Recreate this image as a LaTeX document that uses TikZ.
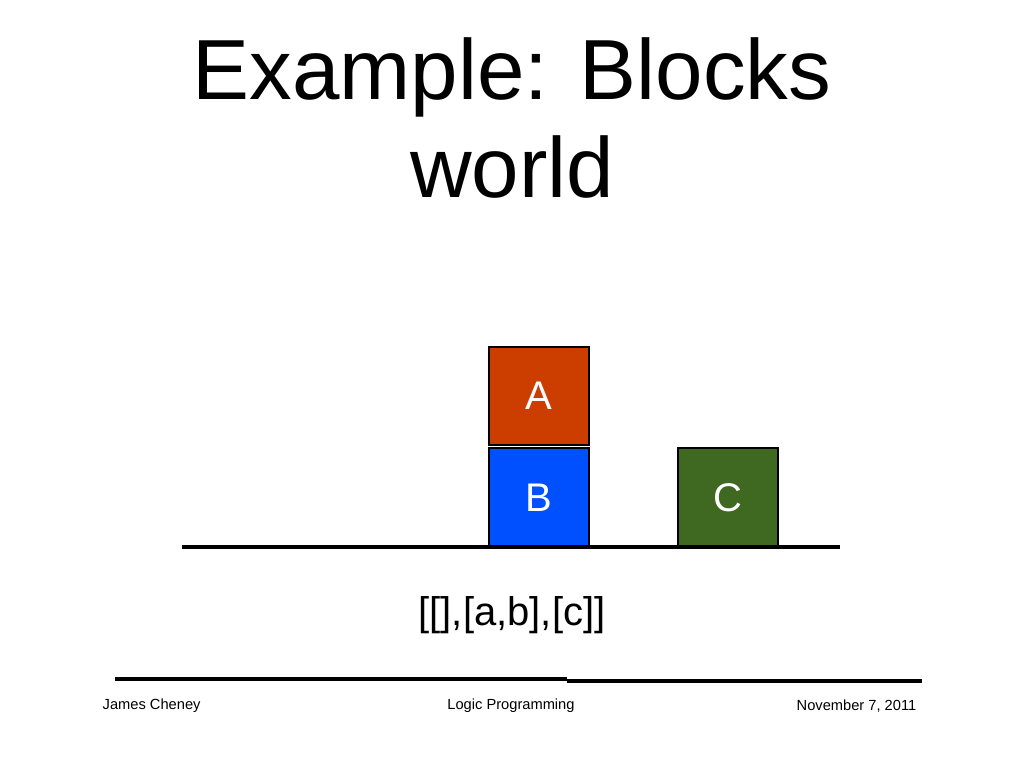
\documentclass[tikz,border=0pt]{standalone}
\usepackage{fontspec}
\setmainfont{Liberation Sans}
\begin{document}
\begin{tikzpicture}[x=0.75pt,y=-0.75pt,
  blk/.style={draw=black,line width=1.5pt,minimum width=75pt,minimum height=74pt,inner sep=0pt,font=\fontsize{30}{34}\selectfont},
  foot/.style={font=\fontsize{11}{13}\selectfont}]
\useasboundingbox (0,0) rectangle (1024,768);
\node[font=\fontsize{64}{74}\selectfont,align=center] (title) at (512,118) {Example: Blocks\\world};
\definecolor{cA}{HTML}{CC3D00}
\definecolor{cB}{HTML}{0050FF}
\definecolor{cC}{HTML}{3F6820}
\node[blk,fill=cA,text=white] (A) at (539,396) {A};
\node[blk,fill=cB,text=white] (B) at (539,497.5) {B};
\node[blk,fill=cC,text=white] (C) at (728,497.5) {C};
\coordinate (g1) at (182,547); \coordinate (g2) at (840,547);
\draw[line width=2.3pt] (g1) -- (g2);
\node[font=\fontsize{30}{34}\selectfont] (list) at (512,615) {[[],[a,b],[c]]};
\coordinate (f1) at (115,679); \coordinate (f2) at (567,679);
\coordinate (f3) at (567,681); \coordinate (f4) at (922,681);
\draw[line width=2.3pt] (f1) -- (f2);
\draw[line width=2.3pt] (f3) -- (f4);
\node[foot,anchor=west] (n1) at (98,706) {James Cheney};
\node[foot] (n2) at (511,706) {Logic Programming};
\node[foot,anchor=east] (n3) at (921,706) {November 7, 2011};
\end{tikzpicture}
\end{document}
